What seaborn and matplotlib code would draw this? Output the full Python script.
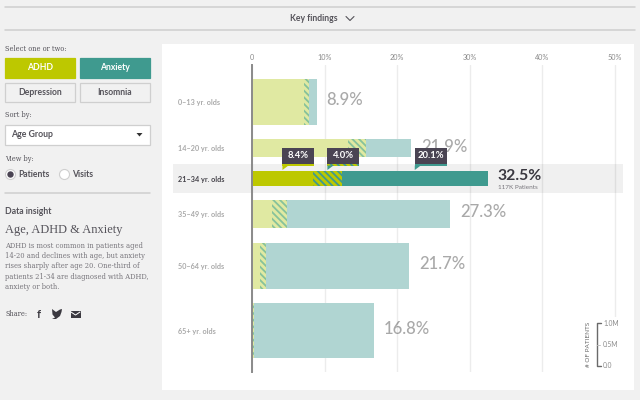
import numpy as np
import pandas as pd
import matplotlib
matplotlib.use("Agg")
import matplotlib.pyplot as plt
from matplotlib.patches import Rectangle, Circle, Polygon
import seaborn as sns

# ---- data ----
age_groups = ["0–13 yr. olds", "14–20 yr. olds", "21–34 yr. olds", "35–49 yr. olds", "50–64 yr. olds", "65+ yr. olds"]
adhd_only = [7.2, 13.3, 8.4, 2.8, 1.1, 0.1]
both = [0.7, 2.4, 4.0, 2.0, 0.8, 0.2]
anxiety_only = [1.0, 6.2, 20.1, 22.5, 19.8, 16.5]
total_labels = ["8.9%", "21.9%", "32.5%", "27.3%", "21.7%", "16.8%"]
patients_m = [1.07, 0.40, 0.35, 0.65, 1.07, 1.28]
x_ticks = [0, 10, 20, 30, 40, 50]
x_tick_labels = ["0", "10%", "20%", "30%", "40%", "50%"]
focus = 2

BG = "#f1f1f1"; LIME = "#bdc800"; TEAL = "#3f9a8f"; LIME_L = "#e0e9a2"; TEAL_L = "#b0d5d2"
DARK = "#4a4453"; TXT = "#55535a"; GREY = "#a9a9a9"; LINE = "#cfcfcf"
SANS = "Lato"; SERIF = "DejaVu Serif"

sns.set_theme(style="white")
plt.rcParams["font.family"] = [SANS, "DejaVu Sans"]
plt.rcParams["hatch.linewidth"] = 1.3

fig = plt.figure(figsize=(6.4, 4.0), dpi=100, facecolor=BG)
W, H = 640, 400

def px_axes(z):
    a = fig.add_axes([0, 0, 1, 1], zorder=z)
    a.set_xlim(0, W); a.set_ylim(H, 0); a.axis("off"); a.patch.set_alpha(0)
    return a

back = px_axes(0)
top = px_axes(5)

# ---- page furniture ----
back.add_patch(Rectangle((162, 44), 472, 346, fc="white", ec="none"))
for y in (6.5, 30):
    back.plot([5, 635], [y, y], color=LINE, lw=1.1)
back.text(314, 18.5, "Key findings", ha="center", va="center", fontsize=6.2, color=TXT, fontweight="bold")
back.plot([346, 350, 354], [16.5, 20.5, 16.5], color=TXT, lw=0.8)

back.text(5, 49, "Select one or two:", fontsize=4.8, family=SERIF, color=TXT, va="center")
for (x, y, lab, fc, tc) in [(5, 58, "ADHD", LIME, "white"), (80, 58, "Anxiety", TEAL, "white"),
                            (5, 82.5, "Depression", BG, TXT), (80, 82.5, "Insomnia", BG, TXT)]:
    back.add_patch(Rectangle((x, y), 70, 19.5, fc=fc, ec=fc if fc != BG else LINE, lw=0.9))
    back.text(x + 35, y + 10, lab, ha="center", va="center", fontsize=6.2, color=tc, fontweight="bold")
back.text(5, 115, "Sort by:", fontsize=4.8, family=SERIF, color=TXT, va="center")
back.add_patch(Rectangle((5, 124.5), 145, 20, fc="white", ec=LINE, lw=0.9))
back.text(11, 134.5, "Age Group", fontsize=6.3, color=TXT, fontweight="bold", va="center")
back.add_patch(Polygon([[136.5, 133], [142.5, 133], [139.5, 136.5]], fc="#333333", ec="none"))
back.text(5, 159, "View by:", fontsize=4.8, family=SERIF, color=TXT, va="center")
back.add_patch(Circle((10.5, 174.5), 5, fc="white", ec=LINE, lw=0.8))
back.add_patch(Circle((10.5, 174.5), 3.2, fc=DARK, ec="none"))
back.text(18.5, 174.5, "Patients", fontsize=6.2, color=TXT, va="center", fontweight="bold")
back.add_patch(Circle((64.5, 174.5), 5, fc="white", ec=LINE, lw=0.8))
back.text(72, 174.5, "Visits", fontsize=6.2, color=TXT, va="center", fontweight="bold")
back.plot([5, 150], [192.5, 192.5], color=LINE, lw=1.1)
back.text(5, 211.5, "Data insight", fontsize=6.2, color=TXT, fontweight="bold", va="center")
back.text(5, 229.5, "Age, ADHD & Anxiety", fontsize=8.9, family="Liberation Serif", color=TXT, va="center")
for y, line in zip([246.5, 256.5, 266.5, 276.8, 287],
                   ["ADHD is most common in patients aged", "14-20 and declines with age, but anxiety",
                    "rises sharply after age 20. One-third of", "patients 21-34 are diagnosed with ADHD,",
                    "anxiety or both."]):
    back.text(5, y, line, fontsize=5.4, family=SERIF, color="#77757b", va="center", stretch="condensed")
back.text(5, 314, "Share:", fontsize=4.8, family=SERIF, color=TXT, va="center")
back.text(39, 314.5, "f", fontsize=8, color="#3b3940", fontweight="bold", ha="center", va="center")
back.add_patch(Polygon([[52, 309], [56, 312], [60, 309.5], [62, 309], [61.5, 312], [60, 316], [56, 319],
                        [52, 319], [55, 317.5], [52.5, 314.5]], fc="#3b3940", ec="none"))
back.add_patch(Rectangle((70.5, 310.5), 10, 7.5, fc="#3b3940", ec="none"))
back.plot([71, 75.5, 80], [312, 315, 312], color="white", lw=0.7)

# ---- chart ----
L, R, T, B = 252.0, 630.0, 65.0, 372.0
ax = fig.add_axes([L / W, 1 - B / H, (R - L) / W, (B - T) / H], zorder=2)
ax.patch.set_alpha(0)
PX_PER_M = 43.0
GAP = 14.4
heights = np.array(patients_m) * PX_PER_M
centers = 79 + np.cumsum(heights) - heights / 2 + GAP * np.arange(len(heights))

df = pd.DataFrame({"age": age_groups, "a": adhd_only, "b": both, "c": anxiety_only})
df["ab"] = df["a"] + df["b"]
df["abc"] = df["ab"] + df["c"]

def layer(col, colors, hatch_colors=None):
    n0 = len(ax.patches)
    sns.barplot(data=df, y="age", x=col, hue="age", palette=colors, legend=False, dodge=False,
                saturation=1, errorbar=None, orient="y", ax=ax, zorder=3)
    for i, p in enumerate(ax.patches[n0:]):
        p.set_y(centers[i] - heights[i] / 2)
        p.set_height(heights[i])
        p.set_linewidth(0)
        if hatch_colors:
            p.set_edgecolor(hatch_colors[i]); p.set_hatch("\\\\\\\\\\")

rowc = lambda dark, light: [dark if i == focus else light for i in range(len(age_groups))]
layer("abc", rowc(TEAL, TEAL_L))
layer("ab", rowc(LIME, LIME_L), rowc(TEAL, "#86c29b"))
layer("a", rowc(LIME, LIME_L))

ax.set_xlim(0, (R - L) / 7.25)
ax.set_ylim(B, T)
ax.set_xlabel(""); ax.set_ylabel("")
for s in ("top", "right", "bottom"):
    ax.spines[s].set_visible(False)
ax.spines["left"].set_color("#8a8a8a"); ax.spines["left"].set_linewidth(1.4)
ax.spines["left"].set_zorder(6)
ax.xaxis.tick_top()
ax.set_xticks(x_ticks, x_tick_labels)
ax.tick_params(axis="x", length=0, pad=3, labelsize=5.2, labelcolor="#8a8a8a")
ax.set_yticks(centers, age_groups)
ax.tick_params(axis="y", length=0, pad=53.3, labelsize=5.2, labelcolor=GREY)
for i, t in enumerate(ax.get_yticklabels()):
    t.set_ha("left"); t.set_fontweight("bold")
    if i == focus:
        t.set_color("#45434a")
ax.xaxis.grid(True, color="black", alpha=0.075, lw=1, zorder=4)
ax.set_axisbelow(False)
ax.yaxis.grid(False)

# focus band behind the bars
back.add_patch(Rectangle((173, centers[focus] - 14.5), 450, 29, fc="#f0f0f0", ec="none"))

# total labels
totals = df["abc"].values
for i, lab in enumerate(total_labels):
    if i == focus:
        ax.text(totals[i] + 10 / 7.25, centers[i] - 3, lab, fontsize=11.3, fontweight="bold", color="#3a3840",
                va="center", zorder=7)
        ax.text(totals[i] + 10 / 7.25, centers[i] + 8.5, "117K Patients", fontsize=4.6, color="#77757b",
                va="center", zorder=7)
    else:
        ax.text(totals[i] + 10 / 7.25, centers[i] - 2 + (i == 1) * 1, lab, fontsize=12, fontweight="medium",
                color=GREY, va="center", zorder=2)

# tooltips, anchored on the middle of each focus-row segment
seg_starts = [0, adhd_only[focus], adhd_only[focus] + both[focus]]
seg_vals = [adhd_only[focus], both[focus], anxiety_only[focus]]
seg_cols = [LIME, TEAL, TEAL]
for s, v, c in zip(seg_starts, seg_vals, seg_cols):
    xp = L + (s + v / 2) * 7.25
    top.add_patch(Rectangle((xp, 148), 32, 15.5, fc=DARK, ec="none"))
    if v == both[focus]:
        top.add_patch(Rectangle((xp, 163.5), 32, 2, fc=LIME, ec="none", hatch="\\\\\\\\\\"))
        top.patches[-1].set_edgecolor(TEAL); top.patches[-1].set_linewidth(0)
    else:
        top.add_patch(Rectangle((xp, 163.5), 32, 2, fc=c, ec="none"))
    top.add_patch(Polygon([[xp, 165.5], [xp + 6, 165.5], [xp, 170]], fc=c, ec="none"))
    top.text(xp + 16, 155.7, f"{v:.1f}%", ha="center", va="center", fontsize=6.8, color="white", fontweight="bold")

# patient-count key
top.add_patch(Rectangle((584, 317), 46, 56, fc="white", ec="none"))
top.plot([601, 596.8, 596.8, 601], [323, 323, 366, 366], color="#6a6a6a", lw=1)
top.plot([596.8, 600], [344.5, 344.5], color="#c0c0c0", lw=0.7)
for y, s in [(323, "1.0M"), (344.5, "0.5M"), (366, "0.0")]:
    top.text(603, y, s, fontsize=4.8, color="#8a8a8a", va="center")
top.text(589, 344.5, "# OF PATIENTS", rotation=90, fontsize=4.6, color="#6a6a6a", ha="center", va="center")

fig.savefig("out.png", dpi=100, facecolor=BG)
